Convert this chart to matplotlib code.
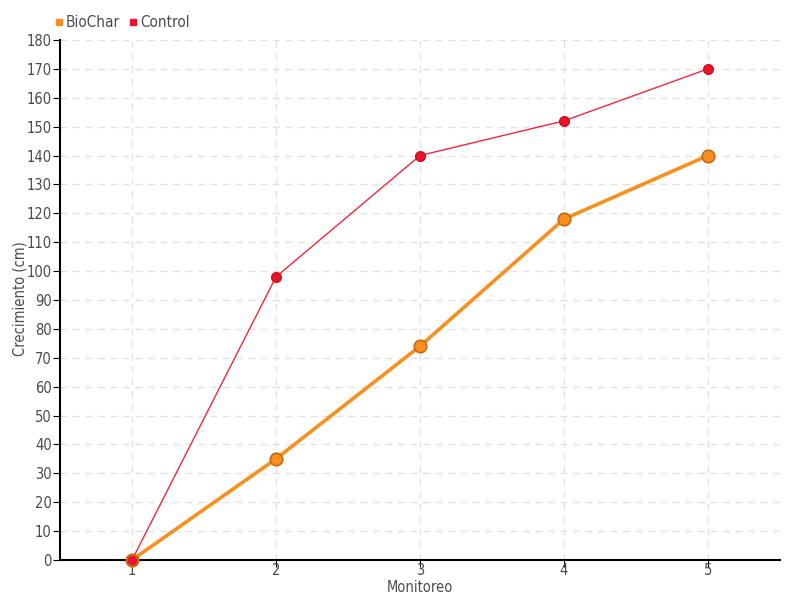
import numpy as np
import matplotlib.pyplot as plt
from matplotlib.lines import Line2D

# Data
monitoreo = [1, 2, 3, 4, 5]
biochar = [0, 35, 74, 118, 140]
control = [0, 98, 140, 152, 170]
y_ticks = list(range(0, 181, 10))

text_color = '#4a4a4a'
plt.rcParams['font.family'] = 'DejaVu Sans'
plt.rcParams['font.stretch'] = 'condensed'
plt.rcParams['font.size'] = 10

fig = plt.figure(figsize=(8, 6), dpi=100)
ax = fig.add_axes([0.075, 0.0667, 0.9, 0.8667])

ax.plot(monitoreo, control, color='#f0283c', linewidth=1, marker='o',
        markersize=7, markerfacecolor='#e8142a', markeredgecolor='#d01020',
        zorder=3, label='Control', clip_on=False)
ax.plot(monitoreo, biochar, color='#f7901e', linewidth=2.6, marker='o',
        markersize=9, markerfacecolor='#f7901e', markeredgecolor='#c8681a',
        markeredgewidth=1.2, zorder=4, label='BioChar', clip_on=False)
# red marker at the origin sits on top
ax.plot(monitoreo[:1], control[:1], linestyle='none', marker='o', markersize=8,
        markerfacecolor='#e8142a', markeredgecolor='#c8681a', markeredgewidth=1.2,
        zorder=6, clip_on=False)

ax.set_xlim(0.5, 5.5)
ax.set_ylim(0, 180)
ax.set_xticks(monitoreo)
ax.set_yticks(y_ticks)
ax.grid(True, color='#e2e2e2', linestyle=(0, (5, 4)), linewidth=1)
ax.set_axisbelow(True)
for s in ['top', 'right']:
    ax.spines[s].set_visible(False)
ax.spines['left'].set_linewidth(1.5)
ax.spines['bottom'].set_linewidth(1.5)
ax.tick_params(axis='both', colors='black', labelcolor=text_color, labelsize=10.5, length=5)
ax.tick_params(axis='x', pad=-3)
ax.tick_params(axis='y', pad=1)

fig.text(420 / 800, 1 - 587 / 600, 'Monitoreo', color=text_color, fontsize=10.5,
         ha='center', va='center')
fig.text(20 / 800, 1 - 299 / 600, 'Crecimiento (cm)', color=text_color, fontsize=10.5,
         ha='center', va='center', rotation=90)

handles = [Line2D([], [], linestyle='none', marker='s', markersize=5, color='#f7901e'),
           Line2D([], [], linestyle='none', marker='s', markersize=5, color='#e8142a')]
fig.legend(handles, ['BioChar', 'Control'], loc='upper left', bbox_to_anchor=(0.052, 0.998),
           ncol=2, frameon=False, fontsize=11, handlelength=0.5, handletextpad=0.2,
           columnspacing=0.6, labelcolor=text_color)

plt.savefig('out.png', dpi=100)
